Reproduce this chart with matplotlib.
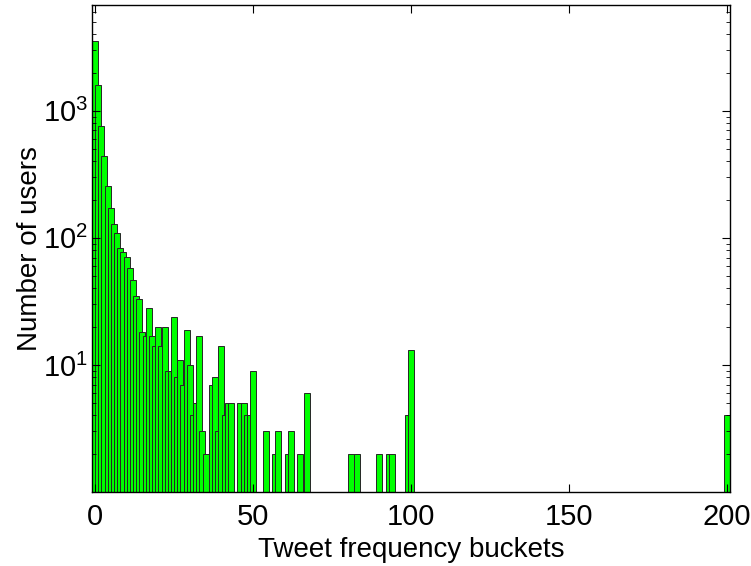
import numpy as np
import matplotlib
matplotlib.use("Agg")
import matplotlib.pyplot as plt
from matplotlib.ticker import LogLocator, NullFormatter

# bucket index -> number of users (buckets with 0/1 users are not drawn on log axis)
buckets = [0, 1, 2, 3, 4, 5, 6, 7, 8, 9,
           10, 11, 12, 13, 14, 15, 16, 17, 18, 19,
           20, 21, 22, 23, 24, 25, 26, 27, 28, 29,
           30, 31, 32, 33, 34, 35, 37, 38, 39, 40,
           41, 42, 43, 46, 47, 48, 49, 50, 54, 57,
           58, 61, 62, 65, 67, 81, 83, 90, 93, 94,
           99, 100, 200]
users = [3560, 1600, 762, 437, 258, 171, 129, 110, 83, 78,
         71, 58, 47, 35, 33, 18, 17, 28, 17, 14,
         20, 14, 20, 9, 9, 24, 8, 11, 7, 19,
         10, 4, 5, 17, 3, 2, 7, 8, 3, 14,
         4, 5, 5, 5, 5, 4, 4, 9, 3, 2,
         3, 2, 3, 2, 6, 2, 2, 2, 2, 2,
         4, 13, 4]

xticks = [0, 50, 100, 150, 200]
yticks = [10, 100, 1000]

plt.rcParams['font.family'] = ['Liberation Sans', 'DejaVu Sans']
plt.rcParams['mathtext.fontset'] = 'custom'
plt.rcParams['mathtext.rm'] = 'Liberation Sans'

fig = plt.figure(figsize=(7.51, 5.66), dpi=100)
ax = fig.add_axes([92 / 751, 1 - 492 / 566, 638 / 751, 487 / 566])

ax.bar(buckets, users, width=1.9, color='#00ff00', edgecolor='#262626',
       linewidth=0.7, log=True)

ax.set_xlim(-0.95, 200.95)
ax.set_ylim(1, 6800)
ax.set_xticks(xticks)
ax.set_yticks(yticks)
ax.yaxis.set_minor_locator(LogLocator(base=10, subs=np.arange(2, 10)))
ax.yaxis.set_minor_formatter(NullFormatter())

ax.tick_params(which='both', direction='in', top=True, right=True, labelsize=21)
ax.tick_params(which='major', length=6, width=0.8)
ax.tick_params(which='minor', length=3, width=0.6)
ax.tick_params(axis='x', pad=8)
ax.tick_params(axis='y', pad=3)

for s in ax.spines.values():
    s.set_linewidth(1.0)

ax.set_xlabel('Tweet frequency buckets', fontsize=20, labelpad=4)
ax.set_ylabel('Number of users', fontsize=20, labelpad=0)

fig.savefig('out.png', dpi=100)
